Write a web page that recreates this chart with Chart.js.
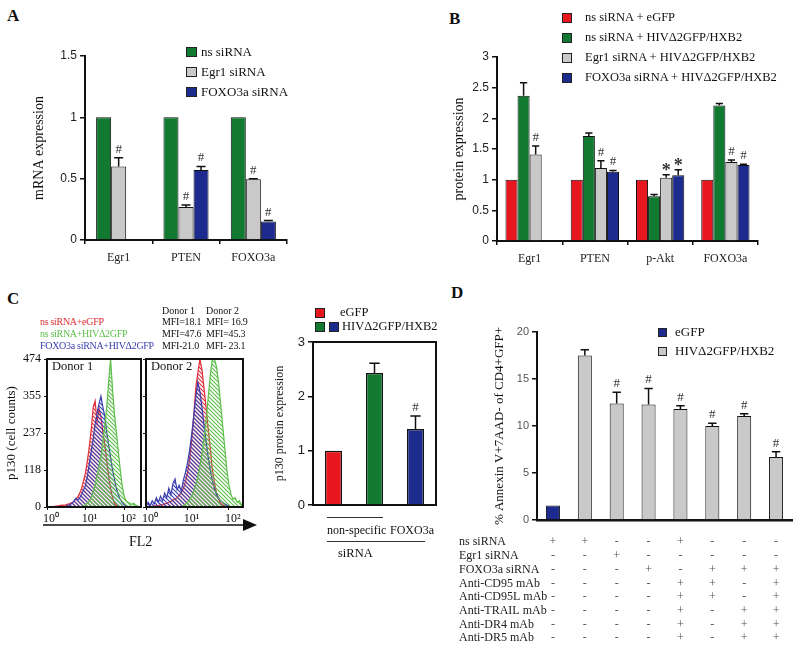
<!DOCTYPE html>
<html><head><meta charset="utf-8">
<script src="https://cdn.jsdelivr.net/npm/chart.js@4.4.1/dist/chart.umd.min.js"></script>
<style>
html,body{margin:0;padding:0;background:#fff}
body{position:relative;width:800px;height:650px;overflow:hidden;font-family:"Liberation Serif","Times New Roman",serif;color:#111}
canvas{position:absolute}
.t{position:absolute;white-space:nowrap;line-height:1}
.sq{position:absolute;box-sizing:border-box;border:1px solid #222}
.ln{position:absolute;height:0;border-top:1px solid #333}
.L{position:absolute;font-weight:bold;font-size:17px;line-height:1}
</style></head><body>
<canvas id="cA" width="280" height="240" style="left:20px;top:40px"></canvas>
<canvas id="cB" width="348" height="240" style="left:420px;top:41px"></canvas>
<canvas id="cH1" width="142" height="180" style="left:0px;top:347px"></canvas>
<canvas id="cH2" width="113" height="180" style="left:131px;top:347px"></canvas>
<canvas id="cC" width="170" height="187" style="left:270px;top:330px"></canvas>
<canvas id="cD" width="360" height="334" style="left:440px;top:316px"></canvas>

<div class="L" style="left:7px;top:7px">A</div>
<div class="L" style="left:449px;top:10px">B</div>
<div class="L" style="left:7px;top:290px">C</div>
<div class="L" style="left:451px;top:284px">D</div>
<div id="overlay"></div>

<script>
// ---------- data ----------
// Panel A
const catA = ['Egr1', 'PTEN', 'FOXO3a'];
const seriesA = ['ns siRNA', 'Egr1 siRNA', 'FOXO3a siRNA'];
const aNs = [1, 1, 1];
const aEgr = [0.60, 0.27, 0.495];
const aEgrErr = [0.67, 0.285, 0.50];
const aEgrSig = ['#', '#', '#'];
const aFox = [null, 0.57, 0.15];
const aFoxErr = [null, 0.60, 0.158];
const aFoxSig = [null, '#', '#'];
const ticksA = ['0', '0.5', '1', '1.5'];

// Panel B
const catB = ['Egr1', 'PTEN', 'p-Akt', 'FOXO3a'];
const seriesB = ['ns siRNA + eGFP', 'ns siRNA + HIVΔ2GFP/HXB2', 'Egr1 siRNA + HIVΔ2GFP/HXB2', 'FOXO3a siRNA + HIVΔ2GFP/HXB2'];
const bNsE = [1, 1, 1, 1];
const bNsH = [2.37, 1.71, 0.73, 2.21];
const bNsHErr = [2.58, 1.76, 0.76, 2.24];
const bEgrH = [1.41, 1.19, 1.03, 1.29];
const bEgrHErr = [1.55, 1.31, 1.08, 1.32];
const bEgrSig = ['#', '#', '*', '#'];
const bFoxH = [null, 1.13, 1.07, 1.24];
const bFoxHErr = [null, 1.15, 1.16, 1.25];
const bFoxSig = [null, '#', '*', '#'];
const ticksB = ['0', '0.5', '1', '1.5', '2', '2.5', '3'];

// Panel C histograms (log10 FL2 bins, cell counts)
const seriesC = ['ns siRNA+eGFP', 'ns siRNA+HIVΔ2GFP', 'FOXO3a siRNA+HIVΔ2GFP'];
const histBins = [0,0.05,0.1,0.15,0.2,0.25,0.3,0.35,0.4,0.45,0.5,0.55,0.6,0.65,0.7,0.75,0.8,0.85,0.9,0.95,1,1.05,1.1,1.15,1.2,1.25,1.3,1.35,1.4,1.45,1.5,1.55,1.6,1.65,1.7,1.75,1.8,1.85,1.9,1.95,2,2.05,2.1,2.15,2.2,2.25,2.3,2.35,2.4];
const d1Red   = [0,0,0,0,2,3,4,5,6,5,8,9,12,14,18,25,32,45,60,85,110,150,195,250,320,340,270,315,290,240,200,150,100,60,30,12,5,2,0,0,0,0,0,0,0,0,0,0,0];
const d1Blue  = [0,0,0,0,0,0,0,0,0,0,3,5,8,12,20,28,22,30,40,55,70,100,140,180,220,265,300,330,355,320,290,240,200,160,120,90,60,40,25,15,8,4,2,0,0,0,0,0,0];
const d1Green = [0,0,0,0,0,0,0,0,0,0,0,0,0,0,0,0,0,0,2,4,8,12,20,30,50,70,100,130,160,210,260,320,400,474,380,300,240,180,120,70,35,20,15,12,8,12,6,3,0];
const d2Red   = [0,2,0,3,2,5,4,8,6,10,12,15,18,22,25,30,38,45,60,80,110,150,210,290,380,430,474,440,380,320,250,190,120,80,45,25,12,6,3,0,0,0,0,0,0,0,0,0,0];
const d2Blue  = [0,15,5,20,10,30,15,35,20,45,30,60,40,75,90,55,70,50,85,110,140,180,230,290,350,400,370,320,260,210,160,120,85,60,40,30,20,15,10,6,3,0,0,0,0,0,0,0,0];
const d2Green = [0,0,0,0,0,0,0,0,0,0,0,0,0,0,0,0,0,0,5,8,15,22,35,50,70,95,130,170,220,280,350,420,474,474,450,400,330,260,190,120,70,40,25,30,15,20,8,0,0];
const histXLabels = ['10⁰', '10¹', '10²'];
const histYTicks = [0, 118, 237, 355, 474];
const mfiDonor1 = ['MFI=18.1', 'MFI=47.6', 'MFI-21.0'];
const mfiDonor2 = ['MFI= 16.9', 'MFI=45.3', 'MFI- 23.1'];

// Panel C bars
const catC = ['non-specific / eGFP', 'non-specific / HIVΔ2GFP/HXB2', 'FOXO3a / HIVΔ2GFP/HXB2'];
const cVal = [1, 2.43, 1.40];
const cErr = [null, 2.61, 1.64];
const cSig = [null, null, '#'];
const ticksC = ['0', '1', '2', '3'];

// Panel D
const catD = ['1', '2', '3', '4', '5', '6', '7', '8'];
const seriesD = ['eGFP', 'HIVΔ2GFP/HXB2'];
const dEgfp = [1.55, null, null, null, null, null, null, null];
const dHiv = [null, 17.5, 12.4, 12.3, 11.8, 10.0, 11.06, 6.7];
const dHivErr = [null, 18.1, 13.6, 14.0, 12.15, 10.3, 11.3, 7.25];
const dSig = [null, null, '#', '#', '#', '#', '#', '#'];
const ticksD = ['0', '5', '10', '15', '20'];
const tableRows = ['ns siRNA', 'Egr1 siRNA', 'FOXO3a siRNA', 'Anti-CD95 mAb', 'Anti-CD95L mAb', 'Anti-TRAIL mAb', 'Anti-DR4 mAb', 'Anti-DR5 mAb'];
const tableMarks = ['++--+---', '--+-----', '---+-+++', '----++-+', '----++-+', '----+-++', '----+-++', '----+-++'];

// ---------- style ----------
const SERIF = '"Liberation Serif", "Times New Roman", serif';
const SANS = '"Liberation Sans", Arial, sans-serif';
const RED = '#e8161e', GREEN = '#127a30', GRAY = '#c9c9c9', BLUE = '#1d2a8e';
const HR = '#e0303a', HG = '#5cbf4a', HB = '#3b3fae';
Chart.defaults.font.family = SERIF;
Chart.defaults.color = '#111';
Chart.defaults.plugins.legend.display = false;
Chart.defaults.plugins.tooltip.enabled = false;

const errPlugin = {
  id: 'errs',
  afterDatasetsDraw(chart) {
    const ctx = chart.ctx, ys = chart.scales.y;
    chart.data.datasets.forEach((ds, di) => {
      if (!ds.errs && !ds.sigs) return;
      const meta = chart.getDatasetMeta(di);
      meta.data.forEach((el, i) => {
        if (ds.data[i] == null) return;
        let top = el.y;
        const e = ds.errs ? ds.errs[i] : null;
        const w = el.width;
        ctx.save();
        ctx.strokeStyle = '#111'; ctx.lineWidth = 1.5;
        if (e != null) {
          const ye = ys.getPixelForValue(e);
          ctx.beginPath();
          ctx.moveTo(el.x, el.y); ctx.lineTo(el.x, ye);
          ctx.moveTo(el.x - w * 0.3, ye); ctx.lineTo(el.x + w * 0.3, ye);
          ctx.stroke();
          top = Math.min(top, ye);
        }
        const s = ds.sigs ? ds.sigs[i] : null;
        if (s) {
          ctx.fillStyle = '#333'; ctx.textAlign = 'center'; ctx.textBaseline = 'alphabetic';
          if (s === '*') { ctx.font = 'bold 18px ' + SERIF; ctx.fillText(s, el.x, top + 1); }
          else { ctx.font = '13px ' + SERIF; ctx.fillText(s, el.x, top - 5); }
        }
        ctx.restore();
      });
    });
  }
};
const boxPlugin = {
  id: 'box',
  afterDraw(chart) {
    const {left, top, right, bottom} = chart.chartArea;
    const ctx = chart.ctx;
    ctx.save(); ctx.strokeStyle = '#111'; ctx.lineWidth = 2;
    ctx.strokeRect(left, top, right - left, bottom - top);
    ctx.restore();
  }
};
const tablePlugin = {
  id: 'table',
  afterDraw(chart) {
    const ctx = chart.ctx, xs = chart.scales.x;
    const ox = 440, oy = 316;
    ctx.save();
    ctx.font = '12px ' + SERIF; ctx.textBaseline = 'middle';
    tableRows.forEach((r, ri) => {
      const y = 542.3 + ri * 13.7 - oy;
      ctx.fillStyle = '#222'; ctx.textAlign = 'left';
      ctx.fillText(r, 459 - ox, y);
      ctx.fillStyle = '#555'; ctx.textAlign = 'center';
      for (let i = 0; i < tableMarks[ri].length; i++) {
        ctx.fillText(tableMarks[ri][i], xs.getPixelForValue(i), y);
      }
    });
    ctx.restore();
  }
};

function barDs(label, data, color, extra) {
  return Object.assign({label, data, backgroundColor: color, borderColor: '#111', borderWidth: 1}, extra || {});
}
function yAxis(min, max, step, labels, title, titlePad, width, titleSize, tickFont, tickColor) {
  return {
    min, max,
    ticks: {stepSize: step, font: tickFont, color: tickColor || '#222', padding: 3,
      callback: (v, i) => labels[i]},
    grid: {drawOnChartArea: false, drawTicks: true, tickLength: 5, color: '#111', lineWidth: 1.5},
    border: {display: true, color: '#111', width: 2},
    title: title ? {display: true, text: title, font: {size: titleSize, family: SERIF}, color: '#111', padding: {top: titlePad, bottom: 0}} : {display: false},
    afterFit: s => { s.width = width; }
  };
}
function catX(height) {
  return {
    grid: {display: true, drawOnChartArea: false, drawTicks: true, tickLength: 4, color: '#111', lineWidth: 1.5},
    border: {display: true, color: '#111', width: 2},
    ticks: {font: {size: 12, family: SERIF}, color: '#222', padding: 7},
    afterFit: s => { s.height = height; }
  };
}

// ---------- Panel A ----------
new Chart(document.getElementById('cA'), {
  type: 'bar',
  data: {labels: catA, datasets: [
    barDs(seriesA[0], aNs, GREEN),
    barDs(seriesA[1], aEgr, GRAY, {errs: aEgrErr, sigs: aEgrSig}),
    barDs(seriesA[2], aFox, BLUE, {errs: aFoxErr, sigs: aFoxSig})
  ]},
  options: {
    responsive: false, animation: false,
    layout: {padding: {top: 16, right: 13, left: 0, bottom: 0}},
    datasets: {bar: {categoryPercentage: 0.67, barPercentage: 1}},
    scales: {x: catX(40), y: yAxis(0, 1.5, 0.5, ticksA, 'mRNA expression', 11, 65, 14, {family: SANS, size: 12})}
  },
  plugins: [errPlugin]
});

// ---------- Panel B ----------
new Chart(document.getElementById('cB'), {
  type: 'bar',
  data: {labels: catB, datasets: [
    barDs(seriesB[0], bNsE, RED),
    barDs(seriesB[1], bNsH, GREEN, {errs: bNsHErr}),
    barDs(seriesB[2], bEgrH, GRAY, {errs: bEgrHErr, sigs: bEgrSig}),
    barDs(seriesB[3], bFoxH, BLUE, {errs: bFoxHErr, sigs: bFoxSig})
  ]},
  options: {
    responsive: false, animation: false,
    layout: {padding: {top: 16, right: 10, left: 0, bottom: 0}},
    datasets: {bar: {categoryPercentage: 0.74, barPercentage: 1}},
    scales: {x: catX(40), y: yAxis(0, 3, 0.5, ticksB, 'protein expression', 31, 77, 14, {family: SANS, size: 12})}
  },
  plugins: [errPlugin]
});

// ---------- Panel C histograms ----------
function hatch(color) {
  const c = document.createElement('canvas'); c.width = 4; c.height = 4;
  const g = c.getContext('2d');
  g.strokeStyle = color; g.lineWidth = 1.1;
  g.beginPath();
  g.moveTo(-1, -1); g.lineTo(5, 5);
  g.moveTo(-1, 3); g.lineTo(1, 5);
  g.moveTo(3, -1); g.lineTo(5, 1);
  g.stroke();
  return g.createPattern(c, 'repeat');
}
function histDs(label, counts, color) {
  return {label, data: histBins.map((x, i) => ({x, y: counts[i]})), borderColor: color,
    backgroundColor: hatch(color), fill: 'origin', borderWidth: 1.2, pointRadius: 0, tension: 0};
}
function histChart(id, red, green, blue, showLabels, yw, xmax) {
  return new Chart(document.getElementById(id), {
    type: 'line',
    data: {datasets: [histDs(seriesC[1], green, HG), histDs(seriesC[2], blue, HB), histDs(seriesC[0], red, HR)]},
    options: {
      responsive: false, animation: false,
      layout: {padding: {top: 12, right: 1, left: 0, bottom: 0}},
      scales: {
        x: {type: 'linear', min: 0, max: xmax,
          afterBuildTicks: s => { s.ticks = [0, 1, 2].map(v => ({value: v})); },
          ticks: {callback: (v, i) => histXLabels[i], font: {size: 12, family: SERIF}, padding: 2, color: '#111', maxRotation: 0, autoSkip: false, labelOffset: 4},
          grid: {drawOnChartArea: false, drawTicks: true, tickLength: 3, color: '#111'},
          border: {display: false},
          afterFit: s => { s.height = 20; }},
        y: {type: 'linear', min: 0, max: 474,
          afterBuildTicks: s => { s.ticks = histYTicks.map(v => ({value: v})); },
          ticks: {display: showLabels, callback: v => String(v), font: {size: 12, family: SERIF}, color: '#111', padding: 3, autoSkip: false},
          grid: {drawOnChartArea: false, drawTicks: true, tickLength: 3, color: '#111'},
          border: {display: false},
          title: showLabels ? {display: true, text: 'p130 (cell counts)', font: {size: 13, family: SERIF}, color: '#111', padding: {top: 4, bottom: 0}} : {display: false},
          afterFit: s => { s.width = yw; }}
      }
    },
    plugins: [boxPlugin]
  });
}
histChart('cH1', d1Red, d1Green, d1Blue, true, 47, 2.44);
histChart('cH2', d2Red, d2Green, d2Blue, false, 15, 2.34);

// ---------- Panel C bars ----------
new Chart(document.getElementById('cC'), {
  type: 'bar',
  data: {labels: catC, datasets: [
    {label: 'p130', data: cVal, errs: cErr, sigs: cSig, backgroundColor: [RED, GREEN, BLUE], borderColor: '#111', borderWidth: 1.5, barPercentage: 0.42, categoryPercentage: 1}
  ]},
  options: {
    responsive: false, animation: false,
    layout: {padding: {top: 12, right: 4, left: 0, bottom: 0}},
    scales: {
      x: {ticks: {display: false}, grid: {display: false}, border: {display: false}, afterFit: s => { s.height = 12; }},
      y: Object.assign(yAxis(0, 3, 1, ticksC, 'p130 protein expression', 3, 43, 12, {family: SANS, size: 13}), {border: {display: false}})
    }
  },
  plugins: [errPlugin, boxPlugin]
});

// ---------- Panel D ----------
new Chart(document.getElementById('cD'), {
  type: 'bar',
  data: {labels: catD, datasets: [
    barDs(seriesD[0], dEgfp, BLUE, {grouped: false, barPercentage: 0.44, categoryPercentage: 1}),
    barDs(seriesD[1], dHiv, GRAY, {errs: dHivErr, sigs: dSig, grouped: false, barPercentage: 0.44, categoryPercentage: 1})
  ]},
  options: {
    responsive: false, animation: false,
    layout: {padding: {top: 16, right: 8, left: 0, bottom: 0}},
    scales: {
      x: {ticks: {display: false}, grid: {display: false}, border: {display: true, color: '#111', width: 2.5}, afterFit: s => { s.height = 130; }},
      y: yAxis(0, 20, 5, ticksD, '% Annexin V+7AAD- of CD4+GFP+', 52, 97, 13, {family: SANS, size: 11}, '#555')
    }
  },
  plugins: [errPlugin, tablePlugin]
});

// ---------- HTML overlays (legends, labels) ----------
const ov = document.getElementById('overlay');
function txt(s, x, y, size, color, extra) {
  const d = document.createElement('div'); d.className = 't'; d.textContent = s;
  d.style.left = x + 'px'; d.style.top = (y - size * 0.55) + 'px'; d.style.fontSize = size + 'px';
  if (color) d.style.color = color;
  if (extra) Object.assign(d.style, extra);
  ov.appendChild(d); return d;
}
function sq(x, y, w, h, color) {
  const d = document.createElement('div'); d.className = 'sq';
  Object.assign(d.style, {left: x + 'px', top: y + 'px', width: w + 'px', height: h + 'px', background: color});
  ov.appendChild(d);
}
function hline(x1, x2, y) {
  const d = document.createElement('div'); d.className = 'ln';
  Object.assign(d.style, {left: x1 + 'px', top: y + 'px', width: (x2 - x1) + 'px'});
  ov.appendChild(d);
}
// A legend
[GREEN, GRAY, BLUE].forEach((c, i) => { sq(186, 47 + i * 20, 11, 10, c); txt(seriesA[i], 201, 52 + i * 20, 13); });
// B legend
[RED, GREEN, GRAY, BLUE].forEach((c, i) => { sq(562, 13 + i * 20, 10, 10, c); txt(seriesB[i], 585, 18 + i * 20, 12.5); });
// C histogram legend and MFI
[HR, HG, HB].forEach((c, i) => txt(seriesC[i], 40, 322 + i * 12, 10, c, {letterSpacing: '-0.3px'}));
txt('Donor 1', 162, 311, 10); txt('Donor 2', 206, 311, 10);
mfiDonor1.forEach((s, i) => txt(s, 162, 322 + i * 12, 10, null, {letterSpacing: '-0.2px'}));
mfiDonor2.forEach((s, i) => txt(s, 206, 322 + i * 12, 10, null, {letterSpacing: '-0.2px'}));
txt('Donor 1', 52, 367, 12.5); txt('Donor 2', 151, 367, 12.5);
// FL2 arrow
const svgNS = 'http://www.w3.org/2000/svg';
const svg = document.createElementNS(svgNS, 'svg');
svg.setAttribute('width', '230'); svg.setAttribute('height', '16');
Object.assign(svg.style, {position: 'absolute', left: '40px', top: '517px'});
svg.innerHTML = '<line x1="3" y1="8" x2="206" y2="8" stroke="#111" stroke-width="1.5"/><polygon points="203,2 217,8 203,14" fill="#111"/>';
ov.appendChild(svg);
txt('FL2', 129, 543, 14);
// C bar legend and labels
sq(315, 308, 10, 10, RED); txt('eGFP', 340, 313, 12.5);
sq(315, 322, 10, 10, GREEN); sq(329, 322, 10, 10, BLUE); txt('HIVΔ2GFP/HXB2', 342, 327, 12.5);
hline(327, 383, 517);
txt('non-specific', 327, 531, 12);
txt('FOXO3a', 390, 531, 12);
hline(327, 425, 541);
txt('siRNA', 338, 554, 12.5);
// D legend
sq(658, 328, 9, 9, BLUE); txt(seriesD[0], 675, 332, 13);
sq(658, 347, 9, 9, GRAY); txt(seriesD[1], 675, 351, 13);
</script>
</body></html>
